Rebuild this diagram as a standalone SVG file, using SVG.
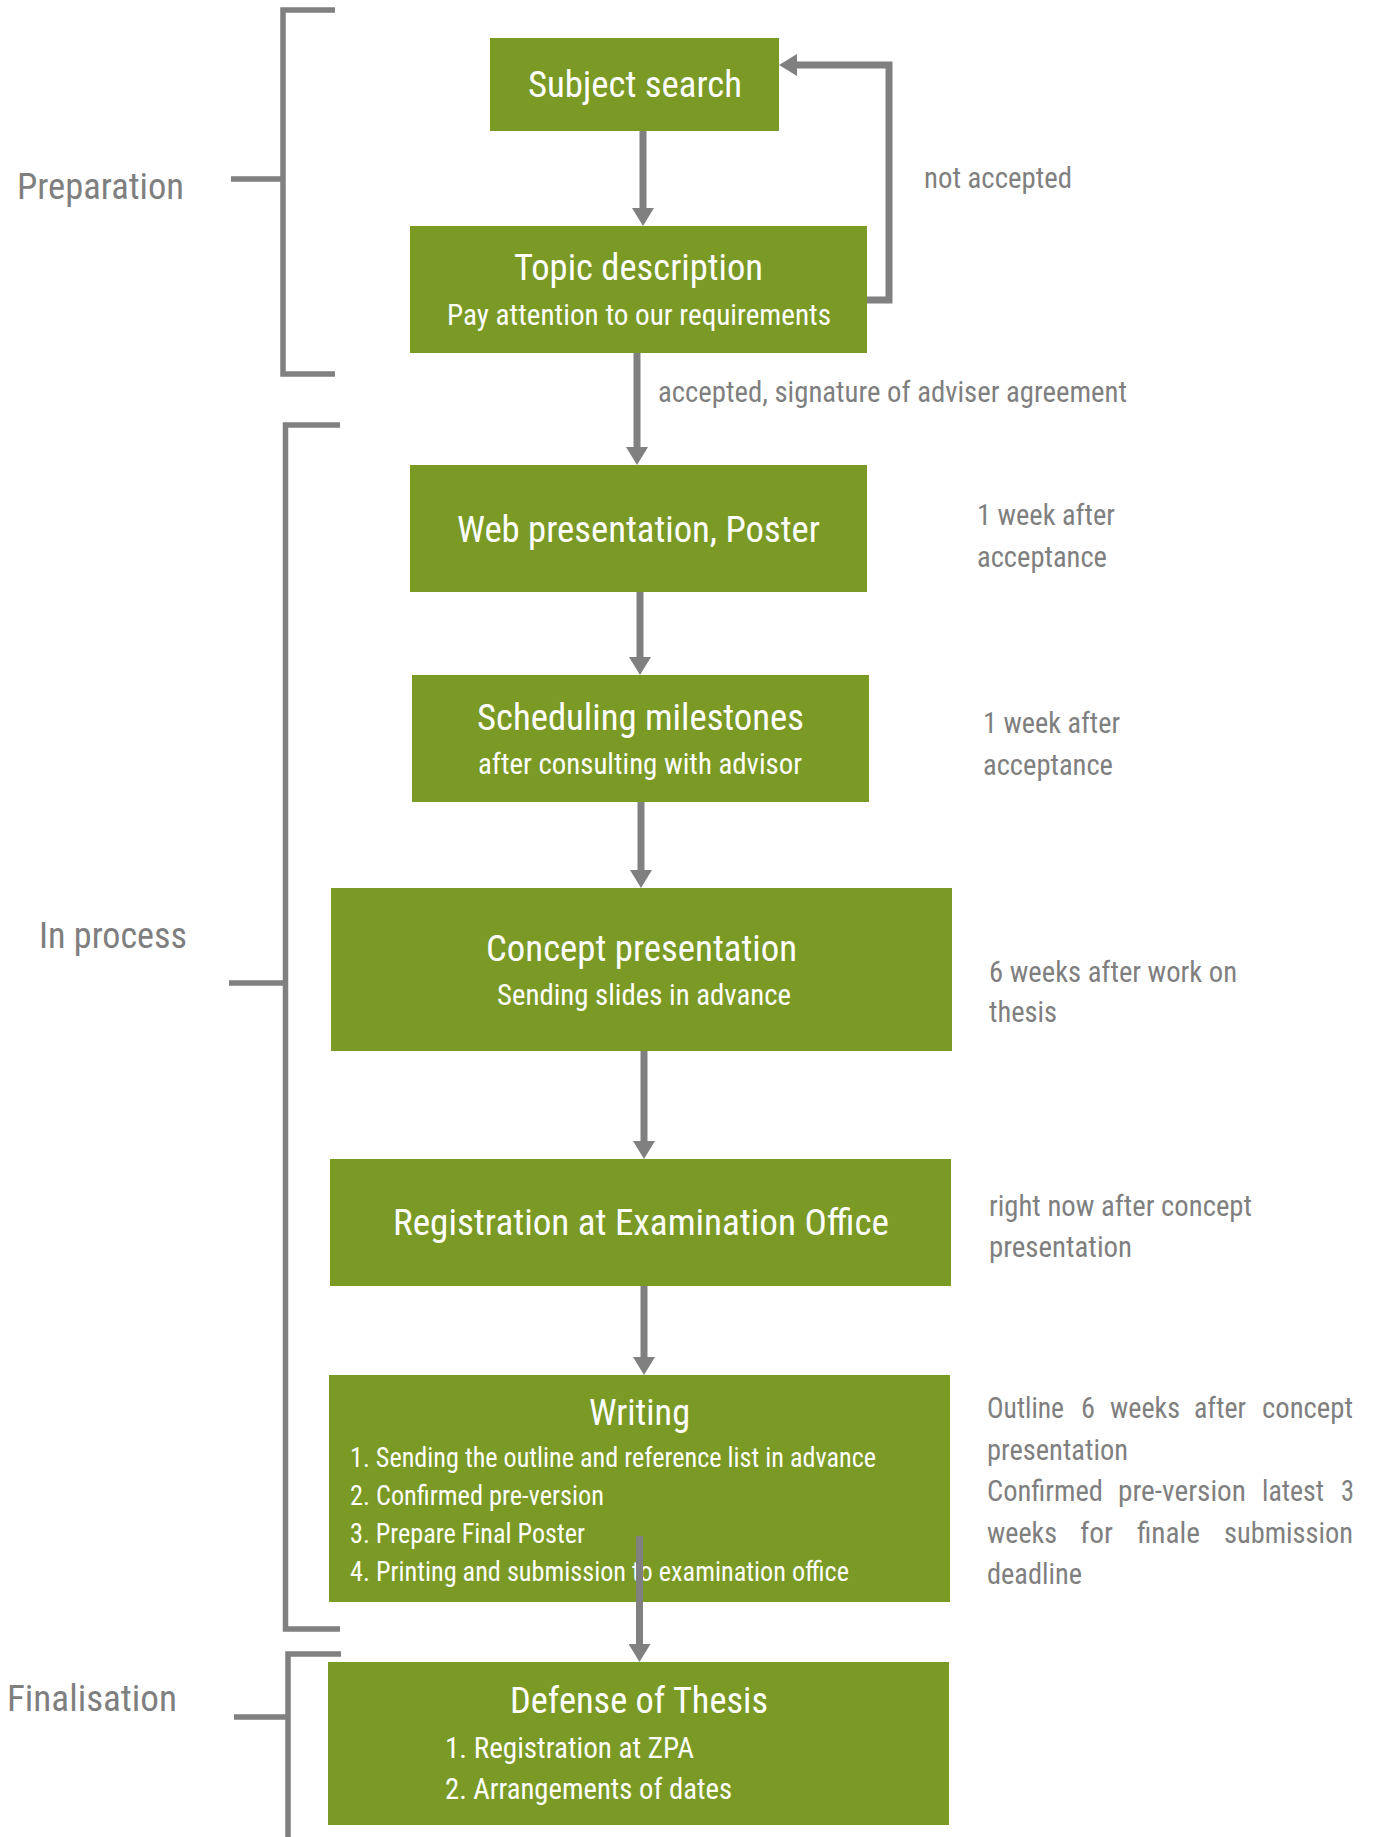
<svg xmlns="http://www.w3.org/2000/svg" width="1373" height="1837" viewBox="0 0 1373 1837">
<style>
  text { font-family: "Roboto Condensed", Roboto, "Liberation Sans", sans-serif; }
  .box { fill: #7A9A25; }
  .t { fill: #ffffff; font-size: 37.5px; }
  .s { fill: #ffffff; font-size: 29.5px; }
  .i { fill: #ffffff; font-size: 27px; }
  .a { fill: #7f7f7f; font-size: 29.5px; }
  .lab { fill: #7f7f7f; font-size: 37.5px; }
  .con { fill: none; stroke: #808080; stroke-width: 7; marker-end: url(#arr); }
  .br { fill: none; stroke: #808080; stroke-width: 5.5; }
</style>
<defs>
  <marker id="arr" viewBox="0 0 18 22" refX="1" refY="11" markerWidth="18" markerHeight="22" markerUnits="userSpaceOnUse" orient="auto">
    <path d="M0,0 L18,11 L0,22 Z" fill="#808080"/>
  </marker>
</defs>
<rect width="1373" height="1837" fill="#ffffff"/>

<g id="brackets">
  <path class="br" d="M335,10 H283 V374 H335 M283,179 H231"/>
  <path class="br" d="M340,425 H285.5 V1629 H340 M285.5,983 H229"/>
  <path class="br" d="M341,1654 H288 V1837 M288,1717 H234"/>
</g>
<g id="phase-labels">
  <text class="lab" x="17" y="199" textLength="167" lengthAdjust="spacingAndGlyphs">Preparation</text>
  <text class="lab" x="39" y="948" textLength="148" lengthAdjust="spacingAndGlyphs">In process</text>
  <text class="lab" x="7" y="1711" textLength="170" lengthAdjust="spacingAndGlyphs">Finalisation</text>
</g>

<g id="node-subject">
  <rect class="box" x="490" y="38" width="289" height="93"/>
  <text class="t" x="528" y="97" textLength="214" lengthAdjust="spacingAndGlyphs">Subject search</text>
</g>
<g id="node-topic">
  <rect class="box" x="410" y="226" width="457" height="127"/>
  <text class="t" x="514" y="280" textLength="249" lengthAdjust="spacingAndGlyphs">Topic description</text>
  <text class="s" x="447" y="325" textLength="384" lengthAdjust="spacingAndGlyphs">Pay attention to our requirements</text>
</g>
<g id="node-web">
  <rect class="box" x="410" y="465" width="457" height="127"/>
  <text class="t" x="457" y="542" textLength="363" lengthAdjust="spacingAndGlyphs">Web presentation, Poster</text>
</g>
<g id="node-scheduling">
  <rect class="box" x="412" y="675" width="457" height="127"/>
  <text class="t" x="477" y="730" textLength="327" lengthAdjust="spacingAndGlyphs">Scheduling milestones</text>
  <text class="s" x="478" y="774" textLength="324" lengthAdjust="spacingAndGlyphs">after consulting with advisor</text>
</g>
<g id="node-concept">
  <rect class="box" x="331" y="888" width="621" height="163"/>
  <text class="t" x="486" y="961" textLength="311" lengthAdjust="spacingAndGlyphs">Concept presentation</text>
  <text class="s" x="497" y="1005" textLength="294" lengthAdjust="spacingAndGlyphs">Sending slides in advance</text>
</g>
<g id="node-registration">
  <rect class="box" x="330" y="1159" width="621" height="127"/>
  <text class="t" x="393" y="1235" textLength="496" lengthAdjust="spacingAndGlyphs">Registration at Examination Office</text>
</g>
<g id="node-writing">
  <rect class="box" x="329" y="1375" width="621" height="227"/>
  <text class="t" x="589" y="1425" textLength="101" lengthAdjust="spacingAndGlyphs">Writing</text>
  <text class="i" x="350" y="1467" textLength="526" lengthAdjust="spacingAndGlyphs">1. Sending the outline and reference list in advance</text>
  <text class="i" x="350" y="1505" textLength="254" lengthAdjust="spacingAndGlyphs">2. Confirmed pre-version</text>
  <text class="i" x="350" y="1543" textLength="235" lengthAdjust="spacingAndGlyphs">3. Prepare Final Poster</text>
  <text class="i" x="350" y="1581" textLength="499" lengthAdjust="spacingAndGlyphs">4. Printing and submission to examination office</text>
</g>
<g id="node-defense">
  <rect class="box" x="328" y="1662" width="621" height="163"/>
  <text class="t" x="510" y="1713" textLength="258" lengthAdjust="spacingAndGlyphs">Defense of Thesis</text>
  <text class="s" x="445" y="1758" textLength="249" lengthAdjust="spacingAndGlyphs">1. Registration at ZPA</text>
  <text class="s" x="445" y="1799" textLength="287" lengthAdjust="spacingAndGlyphs">2. Arrangements of dates</text>
</g>

<g id="connectors">
  <path class="con" d="M643,131 V209"/>
  <path class="con" d="M867,300 H889 V65 H796"/>
  <path class="con" d="M637,353 V448"/>
  <path class="con" d="M640,592 V658"/>
  <path class="con" d="M641,802 V871"/>
  <path class="con" d="M644,1051 V1142"/>
  <path class="con" d="M644,1286 V1358"/>
  <path class="con" d="M639.5,1536 V1645"/>
</g>

<g id="annotations">
  <text class="a" x="924" y="188" textLength="148" lengthAdjust="spacingAndGlyphs">not accepted</text>
  <text class="a" x="658" y="402" textLength="469" lengthAdjust="spacingAndGlyphs">accepted, signature of adviser agreement</text>
  <text class="a" x="977" y="525" textLength="138" lengthAdjust="spacingAndGlyphs">1 week after</text>
  <text class="a" x="977" y="567" textLength="130" lengthAdjust="spacingAndGlyphs">acceptance</text>
  <text class="a" x="983" y="733" textLength="137" lengthAdjust="spacingAndGlyphs">1 week after</text>
  <text class="a" x="983" y="775" textLength="130" lengthAdjust="spacingAndGlyphs">acceptance</text>
  <text class="a" x="989" y="982" textLength="248" lengthAdjust="spacingAndGlyphs">6 weeks after work on</text>
  <text class="a" x="989" y="1022" textLength="68" lengthAdjust="spacingAndGlyphs">thesis</text>
  <text class="a" x="989" y="1216" textLength="263" lengthAdjust="spacingAndGlyphs">right now after concept</text>
  <text class="a" x="989" y="1257" textLength="143" lengthAdjust="spacingAndGlyphs">presentation</text>
  <text class="a" y="1418"><tspan x="987" textLength="77" lengthAdjust="spacingAndGlyphs">Outline</tspan> <tspan x="1081" textLength="14" lengthAdjust="spacingAndGlyphs">6</tspan> <tspan x="1110" textLength="70" lengthAdjust="spacingAndGlyphs">weeks</tspan> <tspan x="1194" textLength="52" lengthAdjust="spacingAndGlyphs">after</tspan> <tspan x="1262" textLength="91" lengthAdjust="spacingAndGlyphs">concept</tspan></text>
  <text class="a" x="987" y="1460" textLength="141" lengthAdjust="spacingAndGlyphs">presentation</text>
  <text class="a" y="1501"><tspan x="987" textLength="116" lengthAdjust="spacingAndGlyphs">Confirmed</tspan> <tspan x="1118" textLength="128" lengthAdjust="spacingAndGlyphs">pre-version</tspan> <tspan x="1262" textLength="62" lengthAdjust="spacingAndGlyphs">latest</tspan> <tspan x="1341" textLength="13" lengthAdjust="spacingAndGlyphs">3</tspan></text>
  <text class="a" y="1543"><tspan x="987" textLength="70" lengthAdjust="spacingAndGlyphs">weeks</tspan> <tspan x="1080" textLength="33" lengthAdjust="spacingAndGlyphs">for</tspan> <tspan x="1137" textLength="63" lengthAdjust="spacingAndGlyphs">finale</tspan> <tspan x="1224" textLength="129" lengthAdjust="spacingAndGlyphs">submission</tspan></text>
  <text class="a" x="987" y="1584" textLength="95" lengthAdjust="spacingAndGlyphs">deadline</text>
</g>
</svg>
